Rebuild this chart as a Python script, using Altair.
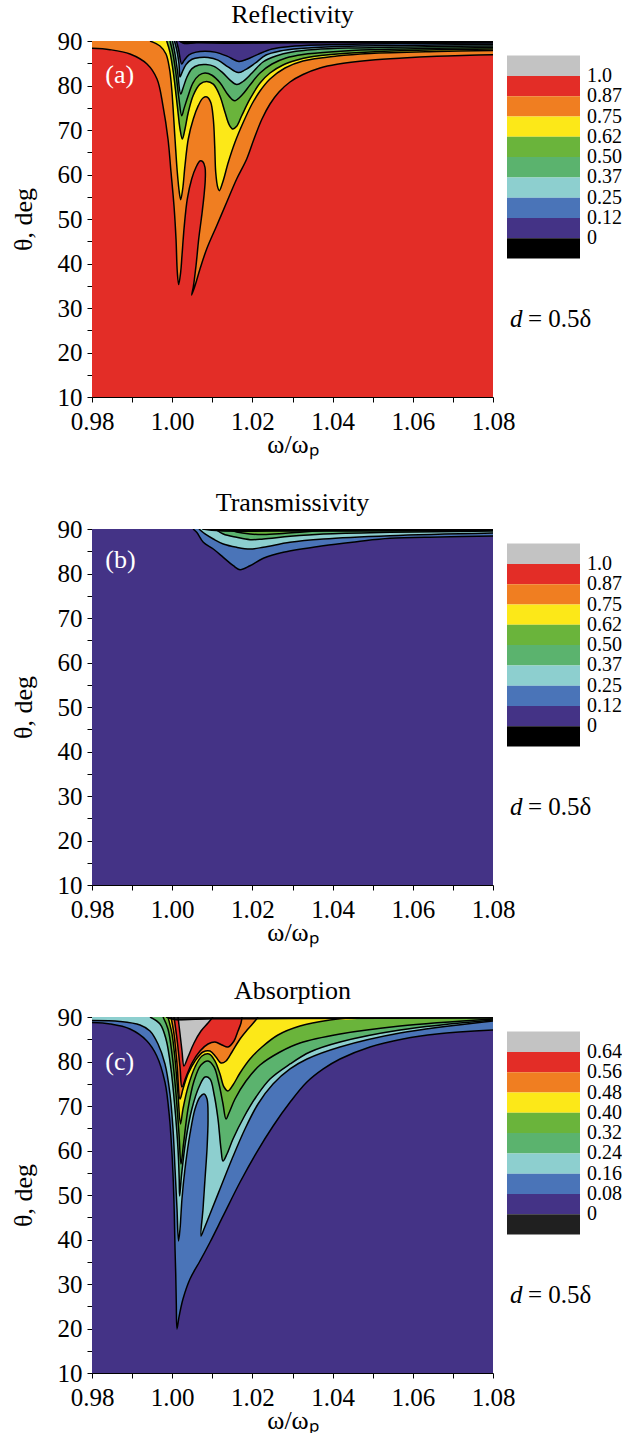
import altair as alt
import pandas as pd

FONT = "Liberation Serif"

GRAY = "#c3c3c3"
RED = "#e32d27"
ORANGE = "#f07e21"
YELLOW = "#fce818"
GREEN = "#6ab43b"
MGREEN = "#5bb36e"
LBLUE = "#8dcfcf"
BLUE = "#4a74b8"
PURPLE = "#443386"
BLACK = "#000000"
DARK = "#202020"

X_DOMAIN = [0.98, 1.08]
Y_DOMAIN = [10, 90]
X_TICKS = [0.98, 0.99, 1.00, 1.01, 1.02, 1.03, 1.04, 1.05, 1.06, 1.07, 1.08]
Y_TICKS = [10, 15, 20, 25, 30, 35, 40, 45, 50, 55, 60, 65, 70, 75, 80, 85, 90]

# ---------------- Panel (a) Reflectivity: contour curves (omega, theta) ----------------
A1 = [(0.98, 88.36), (0.98449, 88.05), (0.98948, 87.08), (0.99372, 84.83), (0.99621, 81.46),
      (0.99771, 75.39), (0.99895, 67.98), (0.9997, 60.56), (1.00045, 52.92), (1.00095, 45.51),
      (1.00127, 38.09), (1.00162, 35.26), (1.00212, 38.09), (1.00244, 41.76), (1.00302, 48.50),
      (1.00377, 54.50), (1.00486, 58.99), (1.00594, 61.62), (1.00693, 63.04), (1.00761, 62.88),
      (1.00818, 61.62), (1.00825, 58.99), (1.00793, 55.24), (1.00736, 50.74), (1.00661, 45.51),
      (1.00594, 39.51), (1.00526, 34.72), (1.00486, 32.92), (1.00569, 35.01), (1.00693, 38.77),
      (1.0086, 43.26), (1.0111, 48.50), (1.01359, 53.76), (1.01608, 58.99), (1.01858, 63.49),
      (1.0204, 67.98), (1.02239, 72.47), (1.02439, 75.84), (1.02663, 78.54), (1.02938, 80.79),
      (1.03262, 82.47), (1.03686, 83.93), (1.0411, 84.76), (1.04933, 85.66), (1.05756, 86.18),
      (1.06603, 86.56), (1.07426, 86.79), (1.08, 86.92)]
A2 = [(0.99446, 90), (0.99696, 88.88), (0.99845, 87.08), (0.99933, 83.71), (0.99988, 79.21),
      (1.0007, 67.98), (1.00127, 60.50), (1.00177, 56.00), (1.00212, 54.34), (1.00262, 56.74),
      (1.00319, 61.98), (1.00401, 67.98), (1.00526, 72.47), (1.00651, 75.46), (1.00768, 77.19),
      (1.00868, 77.42), (1.0096, 76.23), (1.01025, 72.47), (1.0106, 66.47), (1.01085, 60.50),
      (1.01135, 57.13), (1.01175, 56.36), (1.0126, 58.25), (1.01399, 62.74), (1.01566, 67.24),
      (1.01773, 71.73), (1.0199, 75.84), (1.0219, 78.76), (1.02439, 81.46), (1.02813, 83.93),
      (1.03262, 85.51), (1.0411, 86.63), (1.04933, 87.19), (1.06603, 87.64), (1.08, 87.87)]
A3 = [(0.99863, 90), (0.99945, 87.46), (1.00028, 82.97), (1.00127, 75.46), (1.00195, 70.23),
      (1.00252, 67.98), (1.00319, 70.23), (1.00401, 73.98), (1.00526, 77.8), (1.00693, 80.3),
      (1.0086, 80.9), (1.01025, 80.3), (1.01192, 77.6), (1.01317, 73.98), (1.01424, 71.13),
      (1.01509, 70.23), (1.01608, 70.83), (1.01733, 73.21), (1.0194, 76.97), (1.0219, 80.56),
      (1.02439, 82.81), (1.02763, 84.61), (1.03112, 85.73), (1.03436, 86.40), (1.0411, 87.08),
      (1.04933, 87.53), (1.06603, 88.02), (1.08, 88.20)]
A4 = [(0.99945, 90), (1.0002, 87.08), (1.00095, 82.58), (1.0017, 76.97), (1.00237, 73.21),
      (1.00294, 74.8), (1.00394, 77.6), (1.00519, 80.6), (1.00668, 82.3), (1.00818, 82.8),
      (1.00993, 82.3), (1.01192, 80.6), (1.01367, 78.2), (1.01491, 76.9), (1.01566, 76.59),
      (1.01741, 77.87), (1.0194, 80.11), (1.0219, 82.81), (1.02489, 84.83), (1.02838, 86.18),
      (1.03262, 86.97), (1.0411, 87.64), (1.04933, 88.02), (1.06603, 88.38), (1.08, 88.54)]
A5 = [(1.00007, 90), (1.0007, 87.08), (1.00132, 83.26), (1.00212, 78.09), (1.00269, 79.4),
      (1.00369, 81.9), (1.00494, 83.8), (1.00668, 84.6), (1.00843, 84.7), (1.01043, 84.3),
      (1.01242, 83.0), (1.01442, 81.2), (1.01609, 80.2), (1.01766, 80.9), (1.0199, 82.8),
      (1.02264, 85.28), (1.02589, 86.63), (1.02988, 87.53), (1.03561, 88.09), (1.04434, 88.43),
      (1.06603, 88.76), (1.08, 88.88)]
A6 = [(1.00057, 90), (1.0012, 87.75), (1.0017, 84.83), (1.00195, 81.91), (1.00244, 82.9),
      (1.00344, 84.7), (1.00494, 85.9), (1.00693, 86.3), (1.00893, 86.3), (1.01142, 85.7),
      (1.01392, 84.2), (1.01648, 82.9), (1.01815, 83.5), (1.02065, 85.0), (1.02339, 86.85),
      (1.02688, 87.75), (1.03187, 88.31), (1.0411, 88.76), (1.06603, 89.10), (1.08, 89.21)]
A7 = [(1.00107, 90), (1.00157, 88.20), (1.00237, 84.83), (1.00294, 85.6), (1.00419, 86.9),
      (1.00594, 87.5), (1.00818, 87.7), (1.01067, 87.5), (1.01367, 86.6), (1.01666, 85.4),
      (1.01865, 85.9), (1.0214, 87.0), (1.02489, 88.20), (1.02938, 88.76), (1.03686, 89.10),
      (1.05681, 89.44), (1.08, 89.55)]
A8 = [(1.0017, 90), (1.0030, 89.45), (1.0060, 89.6), (1.0150, 89.5), (1.0300, 89.6),
      (1.0550, 89.7), (1.08, 89.75)]

# ---------------- Panel (b) Transmissivity ----------------
B1 = [(1.00519, 90), (1.00611, 89.26), (1.00776, 87.01), (1.01025, 85.51), (1.01274, 83.64),
      (1.01524, 81.75), (1.01691, 80.85), (1.0194, 81.75), (1.02272, 83.42), (1.02771, 84.76),
      (1.03768, 86.25), (1.04601, 87.15), (1.05431, 87.91), (1.06678, 88.20), (1.08, 88.43)]
B2 = [(1.00668, 90), (1.00818, 88.88), (1.01025, 87.75), (1.01274, 86.63), (1.01608, 85.89),
      (1.0194, 85.51), (1.02272, 85.89), (1.02938, 87.01), (1.03768, 87.75), (1.05431, 88.49),
      (1.08, 89.10)]
B3 = [(1.01067, 90), (1.01274, 88.88), (1.01608, 88.13), (1.0194, 87.60), (1.02272, 87.75),
      (1.02938, 88.36), (1.03768, 88.88), (1.05431, 89.26), (1.08, 89.55)]
B4 = [(1.01391, 90), (1.01608, 89.33), (1.0194, 88.88), (1.02272, 88.76), (1.02763, 88.99),
      (1.03262, 89.33), (1.03935, 89.78), (1.04309, 90)]
B5 = [(1.0075, 90), (1.012, 89.6), (1.03, 89.55), (1.06, 89.6), (1.08, 89.7)]

# ---------------- Panel (c) Absorption ----------------
C1 = [(0.98, 88.76), (0.98449, 88.43), (0.98948, 87.30), (0.99364, 84.67), (0.99613, 81.30),
      (0.9982, 75.33), (0.99928, 67.83), (0.99988, 60.34), (1.00028, 52.86), (1.00053, 45.35),
      (1.0007, 37.87), (1.00088, 32.25), (1.00102, 25.51), (1.0012, 19.89), (1.0017, 22.59),
      (1.00269, 26.63), (1.00444, 31.13), (1.00693, 35.17), (1.00943, 39.38), (1.01274, 45.35),
      (1.01691, 52.86), (1.02107, 59.60), (1.02521, 65.57), (1.02938, 70.83), (1.03354, 75.33),
      (1.03768, 78.32), (1.04185, 80.56), (1.04933, 83.26), (1.05756, 85.06), (1.06603, 86.18),
      (1.08, 87.08)]
C2 = [(0.98, 89.21), (0.98698, 88.99), (0.99197, 88.20), (0.99446, 86.85), (0.99646, 83.93),
      (0.9982, 79.44), (0.99945, 72.70), (1.0002, 64.83), (1.0007, 55.85), (1.0012, 46.86),
      (1.00157, 39.67), (1.00195, 42.36), (1.00244, 49.10), (1.00319, 55.85), (1.00444, 63.71),
      (1.00569, 69.33), (1.00693, 72.02), (1.00793, 72.70), (1.00868, 71.57), (1.00893, 67.08),
      (1.00868, 60.34), (1.00818, 53.60), (1.00768, 46.86), (1.00718, 40.79), (1.00793, 42.36),
      (1.00943, 45.73), (1.01192, 51.35), (1.01491, 58.09), (1.01815, 64.83), (1.0214, 70.45),
      (1.02514, 74.94), (1.02938, 78.32), (1.03362, 80.56), (1.04185, 83.26), (1.05681, 86.40),
      (1.08, 89.10)]
C3 = [(0.99446, 90), (0.99696, 88.43), (0.99845, 85.06), (0.9997, 78.32), (1.0007, 69.33),
      (1.00145, 60.34), (1.00175, 53.60), (1.00185, 49.78), (1.00235, 54.72), (1.00344, 62.59),
      (1.0049, 69.33), (1.00668, 74.27), (1.00818, 76.52), (1.00943, 76.07), (1.01043, 72.70),
      (1.01142, 67.08), (1.01217, 60.34), (1.01267, 57.64), (1.01366, 59.22), (1.01516, 62.59),
      (1.0179, 67.53), (1.0209, 72.02), (1.02439, 76.07), (1.02938, 79.44), (1.03436, 82.14),
      (1.04185, 84.38), (1.05681, 87.08), (1.08, 89.33)]
C4 = [(0.99771, 90), (0.99895, 87.30), (0.99995, 81.69), (1.00095, 72.70), (1.0017, 63.71),
      (1.0022, 56.97), (1.00282, 61.47), (1.00394, 69.33), (1.00544, 75.62), (1.00718, 79.21),
      (1.00893, 80.11), (1.01043, 78.77), (1.01167, 74.94), (1.01267, 70.45), (1.01342, 67.08),
      (1.01416, 68.42), (1.01566, 71.57), (1.0184, 75.62), (1.0219, 79.21), (1.02688, 82.14),
      (1.03187, 84.16), (1.04185, 86.18), (1.05681, 87.98), (1.08, 89.55)]
C5 = [(0.99895, 90), (0.99995, 86.18), (1.0007, 80.56), (1.00145, 72.70), (1.00207, 65.96),
      (1.00269, 69.33), (1.00394, 74.27), (1.00569, 78.77), (1.00743, 81.24), (1.00918, 81.69),
      (1.01067, 80.11), (1.01192, 77.19), (1.01292, 74.27), (1.01391, 73.37), (1.01516, 74.72),
      (1.01691, 77.42), (1.0194, 80.56), (1.02239, 83.26), (1.02638, 85.96), (1.03187, 87.98),
      (1.03935, 89.33), (1.04683, 90)]
C6 = [(0.9997, 90), (1.00045, 86.18), (1.0012, 79.44), (1.00195, 71.57), (1.00269, 73.82),
      (1.00394, 77.19), (1.00569, 80.11), (1.00768, 82.14), (1.00943, 82.36), (1.01092, 81.01),
      (1.01217, 79.66), (1.01342, 80.11), (1.01491, 82.14), (1.01691, 85.06), (1.0189, 87.30),
      (1.02065, 89.10), (1.0214, 90)]
C7 = [(1.00045, 90), (1.0012, 85.06), (1.00195, 78.77), (1.00244, 74.27), (1.00344, 76.52),
      (1.00494, 79.66), (1.00693, 82.36), (1.00893, 83.93), (1.01067, 84.38), (1.01242, 83.71),
      (1.01391, 83.26), (1.01541, 84.61), (1.01641, 86.85), (1.01716, 88.65), (1.01741, 90)]
C8 = [(1.00145, 90), (1.00195, 86.18), (1.00244, 82.36), (1.00294, 78.99), (1.00394, 81.01),
      (1.00544, 84.16), (1.00718, 86.85), (1.00893, 88.65), (1.01017, 90)]
C9 = [(0.9985, 90), (1.0005, 89.45), (1.01, 89.6), (1.03, 89.65), (1.08, 89.8)]

LEGEND_AB_COLORS = [GRAY, RED, ORANGE, YELLOW, GREEN, MGREEN, LBLUE, BLUE, PURPLE, BLACK]
LEGEND_AB_LABELS = ["1.0", "0.87", "0.75", "0.62", "0.50", "0.37", "0.25", "0.12", "0"]
LEGEND_C_COLORS = [GRAY, RED, ORANGE, YELLOW, GREEN, MGREEN, LBLUE, BLUE, PURPLE, DARK]
LEGEND_C_LABELS = ["0.64", "0.56", "0.48", "0.40", "0.32", "0.24", "0.16", "0.08", "0"]

PLOT_W = 401
PLOT_H = 356
CB_W = 73


def xenc(field="w"):
    return alt.X(f"{field}:Q",
                 scale=alt.Scale(domain=X_DOMAIN, nice=False, zero=False),
                 axis=alt.Axis(values=X_TICKS, grid=False, title="ω/ωₚ",
                               labelExpr="round(datum.value*100) % 2 == 0 ? format(datum.value, '.2f') : ''",
                               labelFlush=False, labelOverlap=False, tickSize=5, tickColor="black",
                               domainColor="black", labelFont=FONT, labelFontSize=25, labelColor="black",
                               labelPadding=7, titleFont=FONT, titleFontSize=26, titleFontWeight="normal",
                               titleColor="black", titlePadding=-3))


def yenc(field="t"):
    return alt.Y(f"{field}:Q",
                 scale=alt.Scale(domain=Y_DOMAIN, nice=False, zero=False),
                 axis=alt.Axis(values=Y_TICKS, grid=False, title="θ, deg",
                               labelExpr="datum.value % 10 == 0 ? datum.label : ''",
                               labelOverlap=False, tickSize=5, tickColor="black",
                               domainColor="black", labelFont=FONT, labelFontSize=25, labelColor="black",
                               labelPadding=5, titleFont=FONT, titleFontSize=26, titleFontWeight="normal",
                               titleColor="black", titlePadding=21))


def closed_polygon(pts):
    rows = [{"w": w, "t": t, "i": i} for i, (w, t) in enumerate(pts)]

    def ext(w, t):
        if t >= 90:
            return (w, 92.0)
        if w <= X_DOMAIN[0]:
            return (0.96, t)
        if w >= X_DOMAIN[1]:
            return (1.10, t)
        return (w, 92.0)

    extra = [ext(*pts[-1]), (1.10, 92.0), (0.96, 92.0), ext(*pts[0])]
    n = len(pts)
    for j, (w, t) in enumerate(extra):
        rows.append({"w": w, "t": t, "i": n + j})
    return pd.DataFrame(rows)


def panel(title, bg, curves, tag, tag_w, tag_t):
    frame = pd.DataFrame({"x0": [X_DOMAIN[0]], "x1": [X_DOMAIN[1]],
                          "y0": [Y_DOMAIN[0]], "y1": [Y_DOMAIN[1]]})
    layers = [alt.Chart(frame).mark_rect(fill=bg, strokeWidth=0).encode(
        x=xenc("x0"), x2="x1:Q", y=yenc("y0"), y2="y1:Q")]
    line_rows = []
    for cid, (pts, color) in enumerate(curves):
        layers.append(alt.Chart(closed_polygon(pts)).mark_line(
            fill=color, stroke=color, strokeWidth=0.6, interpolate="catmull-rom", clip=True
        ).encode(x=xenc(), y=yenc(), order="i:Q"))
        for i, (w, t) in enumerate(pts):
            line_rows.append({"c": cid, "i": i, "w": w, "t": t})
    layers.append(alt.Chart(pd.DataFrame(line_rows)).mark_line(
        color="black", strokeWidth=1.5, interpolate="catmull-rom", clip=True
    ).encode(x=xenc(), y=yenc(), detail="c:N", order="i:Q"))
    layers.append(alt.Chart(pd.DataFrame({"w": [tag_w], "t": [tag_t], "s": [tag]})).mark_text(
        align="left", baseline="middle", font=FONT, fontSize=26, color="white"
    ).encode(x=xenc(), y=yenc(), text="s:N"))
    return alt.layer(*layers).properties(
        width=PLOT_W, height=PLOT_H,
        title=alt.Title(title, font=FONT, fontSize=26, fontWeight="normal", color="black",
                        anchor="middle", offset=1))


def colorbar(colors, labels):
    ysc = alt.Scale(domain=[-0.72, 16.82], reverse=True, nice=False, zero=False)
    xsc = alt.Scale(domain=[0, 1], nice=False)
    cb = pd.DataFrame({"k": list(range(len(colors))), "col": colors})
    lab = pd.DataFrame({"k": list(range(1, len(labels) + 1)), "lab": labels})
    bars = alt.Chart(cb).transform_calculate(k2="datum.k + 1", x0="0", x1="1").mark_rect(
        strokeWidth=0).encode(
        x=alt.X("x0:Q", scale=xsc, axis=None), x2="x1:Q",
        y=alt.Y("k:Q", scale=ysc, axis=None), y2="k2:Q",
        fill=alt.Fill("col:N", scale=None))
    texts = alt.Chart(lab).transform_calculate(x0="1").mark_text(
        align="left", baseline="middle", dx=7, font=FONT, fontSize=20, color="black").encode(
        x=alt.X("x0:Q", scale=xsc, axis=None), y=alt.Y("k:Q", scale=ysc, axis=None), text="lab:N")
    dvar = alt.Chart(pd.DataFrame({"s": ["d"]})).mark_text(
        align="left", baseline="middle", dx=3, font=FONT, fontSize=25, fontStyle="italic",
        color="black").encode(x=alt.datum(0, scale=xsc), y=alt.datum(13.0, scale=ysc), text="s:N")
    dval = alt.Chart(pd.DataFrame({"s": ["= 0.5δ"]})).mark_text(
        align="left", baseline="middle", dx=21, font=FONT, fontSize=25,
        color="black").encode(x=alt.datum(0, scale=xsc), y=alt.datum(13.0, scale=ysc), text="s:N")
    return alt.layer(bars, texts, dvar, dval).properties(width=CB_W, height=PLOT_H)


curves_a = [(A1, ORANGE), (A2, YELLOW), (A3, GREEN), (A4, MGREEN), (A5, LBLUE),
            (A6, BLUE), (A7, PURPLE), (A8, BLACK)]
curves_b = [(B1, BLUE), (B2, LBLUE), (B3, MGREEN), (B4, GREEN), (B5, BLACK)]
curves_c = [(C1, BLUE), (C2, LBLUE), (C3, MGREEN), (C4, GREEN), (C5, YELLOW),
            (C6, ORANGE), (C7, RED), (C8, GRAY), (C9, DARK)]

chart = alt.concat(
    panel("Reflectivity", RED, curves_a, "(a)", 0.9833, 82.3),
    colorbar(LEGEND_AB_COLORS, LEGEND_AB_LABELS),
    panel("Transmissivity", PURPLE, curves_b, "(b)", 0.9833, 83.0),
    colorbar(LEGEND_AB_COLORS, LEGEND_AB_LABELS),
    panel("Absorption", PURPLE, curves_c, "(c)", 0.9833, 80.0),
    colorbar(LEGEND_C_COLORS, LEGEND_C_LABELS),
    columns=2, spacing={"row": 132, "column": 14}, bounds="flush"
).properties(
    padding={"left": 10, "top": 2, "right": 0, "bottom": 0},
    background="white"
).configure_view(stroke="transparent", strokeWidth=0)

chart.save("out.html", embed_options={"renderer": "svg", "actions": False})
